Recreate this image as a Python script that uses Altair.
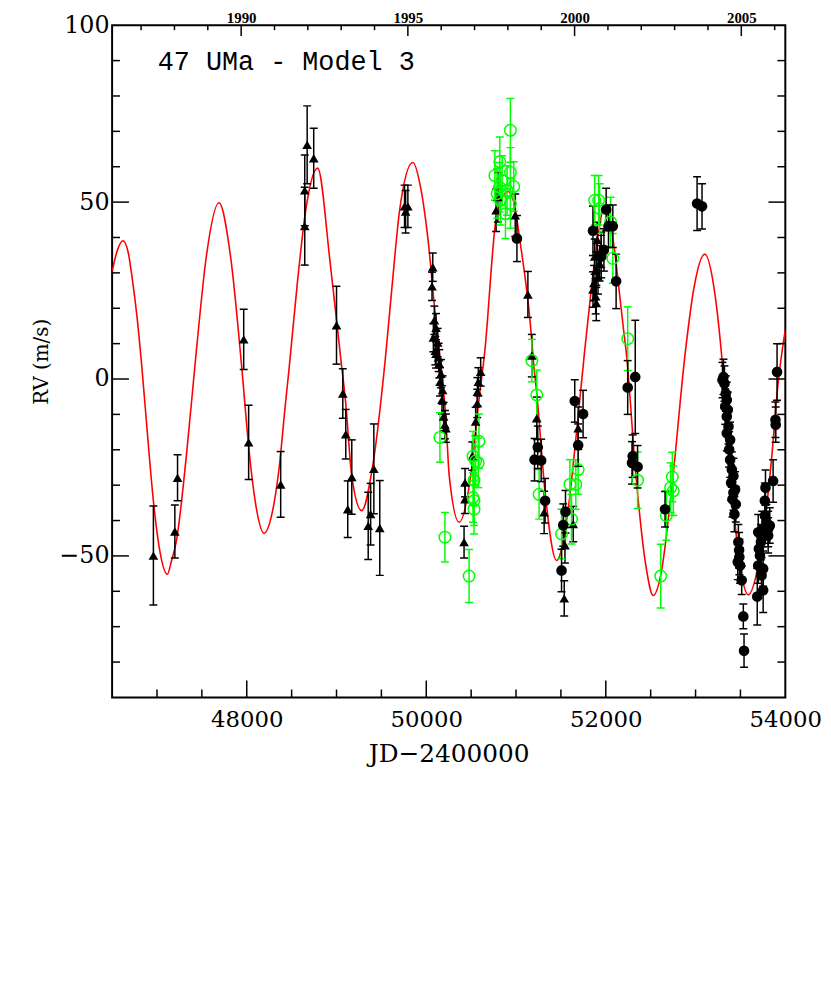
import altair as alt
import pandas as pd

# ---------------- data ----------------
fit_jd = [46500, 46560, 46621, 46680, 46721, 46780, 46831, 46910, 46960, 47038, 47115, 47160, 47218,
          47330, 47439, 47550, 47690, 47820, 47947, 48021, 48100, 48193, 48280, 48359, 48433,
          48470, 48560, 48654, 48790, 48930, 49052, 49100, 49170, 49280, 49408, 49545, 49622, 49703,
          49850, 49943, 50016, 50109, 50145, 50219, 50256, 50366, 50495, 50587, 50653, 50771,
          50840, 50910, 50975, 51048, 51158, 51195, 51231, 51324, 51452, 51581, 51673, 51765,
          51838, 51900, 51979, 52050, 52097, 52140, 52189, 52230, 52336, 52446, 52528, 52612,
          52741, 52888, 52979, 53102, 53219, 53293, 53404, 53495, 53588, 53698, 53846, 53919, 54000]
fit_rv = [30.4, 36.5, 39.1, 35.7, 29.0, 17.0, 3.5, -20.5, -34.5, -49.5, -55.2, -51.6, -45.5,
          -21.0, 8.1, 34.7, 49.8, 34.5, 2.5, -19.0, -35.5, -43.6, -38.2, -25.5, -6.5,
          2.5, 26.2, 47.2, 59.6, 32.7, 4.7, -6.1, -27.4, -37.2, -23.7, 6.0, 27.1, 47.7,
          61.2, 53.3, 40.2, 15.9, 8.1, -11.5, -27.4, -40.5, -27.4, -5.9, 8.1, 44.0,
          51.0, 53.0, 50.0, 38.3, 15.9, 4.7, -4.1, -32.1, -51.3, -36.8, -15.3, 8.1,
          25.3, 38.0, 48.0, 44.0, 36.5, 27.0, 15.9, 7.0, -27.4, -52.7, -61.2, -55.5,
          -29.3, 8.1, 25.3, 35.3, 23.4, 6.0, -31.2, -52.7, -61.0, -52.7, -22.8, -1.3, 14.0]

tri_jd = [46960, 47199, 47229, 47966, 48021, 48378, 48646, 48646, 48673, 48746, 49000, 49070,
          49103, 49125, 49170, 49353, 49380, 49416, 49482, 49758, 49770, 49795, 50064, 50072,
          50079, 50090, 50101, 50109, 50109, 50127, 50138, 50145, 50153, 50164, 50175, 50182,
          50193, 50208, 50219, 50421, 50432, 50432, 50513, 50550, 50568, 50570, 50580, 50606,
          50778, 50797, 50991, 51132, 51176, 51231, 51313, 51537, 51545, 51637, 51692, 51857,
          51868, 51876, 51887, 51894, 51894, 51905, 51913, 51931, 51949]
tri_rv = [-49.9, -43.1, -27.9, 11.2, -17.9, -29.8, 53.3, 43.2, 66.2, 62.4, 15.2, -4.1,
          -15.6, -36.8, -27.7, -41.5, -38.2, -25.4, -42.1, 48.8, 47.3, 48.8, 26.2, 31.6,
          11.7, 16.6, 8.0, 14.5, 7.1, 10.3, 6.1, 4.3, -0.8, 1.5, -5.9, -3.1,
          -10.6, -12.9, -13.9, -46.1, -29.3, -34.0, -21.8, -12.0, -6.9, -3.6, -0.8, 2.0,
          47.7, 51.4, 46.3, 23.9, 6.6, -11.1, -37.7, -62.0, -47.0, -41.0, -13.9, 25.3,
          27.1, 34.6, 23.4, 30.9, 21.5, 39.3, 29.0, 32.7, 36.5]
tri_err = [14, 7.5, 6.5, 8.5, 10.5, 9.3, 10, 11, 11, 8.5, 11, 7,
           7, 8, 10.5, 9.5, 8.7, 12.7, 13.4, 6, 6, 6, 4, 4,
           4, 4, 4, 4, 4, 4, 4, 4, 4, 4, 4, 4,
           4, 4, 4, 4.5, 4, 4, 4, 4, 4, 4, 4, 4,
           6, 7, 6, 6.5, 6, 6, 6, 5, 5, 5, 6, 5,
           5, 5, 5, 5, 5, 5, 5, 5, 5]

grn_jd = [50152, 50208, 50477, 50521, 50521, 50532, 50532, 50532, 50550, 50579, 50587, 50764,
          50789, 50816, 50819, 50827, 50845, 50882, 50900, 50937, 50937, 50937, 50974, 51176,
          51231, 51257, 51507, 51600, 51618, 51666, 51692, 51876, 51920, 51931, 52053, 52078,
          52244, 52354, 52612, 52674, 52722, 52741, 52752]
grn_rv = [-16.5, -44.7, -55.7, -21.8, -33.5, -28.6, -34.4, -36.8, -23.2, -23.7, -17.6, 57.5,
          52.4, 54.2, 61.4, 50.5, 56.1, 46.7, 53.3, 70.3, 58.4, 49.6, 54.4, 5.2,
          -4.5, -32.6, -43.8, -29.8, -39.6, -29.8, -25.6, 50.5, 50.5, 48.2, 44.4, 34.1,
          11.4, -28.6, -55.7, -38.6, -30.7, -27.7, -31.6]
grn_err = [7, 7, 7.5, 7, 7, 7, 7, 7, 7, 7, 7.7, 7,
           7, 7, 7, 7, 7, 7, 7, 9, 7, 7, 7, 6,
           7, 7, 7, 7, 7, 7, 7, 7, 7, 7, 7, 7,
           9, 8, 9, 7, 7, 7, 7]

dot_jd = [51010, 51206, 51242, 51280, 51324, 51507, 51526, 51551, 51654, 51692, 51747, 51857,
          51949, 51979, 52004, 52030, 52078, 52115, 52244, 52292, 52299, 52328, 52354, 52660,
          53017, 53072, 53300, 53311, 53322, 53330, 53337, 53348, 53348, 53348, 53359, 53367,
          53374, 53385, 53385, 53396, 53404, 53411, 53422, 53422, 53433, 53440, 53448, 53470,
          53477, 53485, 53488, 53496, 53514, 53532, 53540, 53687, 53698, 53698, 53705, 53717,
          53728, 53735, 53742, 53753, 53753, 53772, 53772, 53779, 53790, 53809, 53809, 53827,
          53864, 53890, 53893, 53908]
dot_rv = [39.7, -22.8, -19.3, -23.0, -34.4, -54.1, -41.3, -37.5, -6.2, -18.7, -9.9, 41.9,
          34.6, 36.5, 47.9, 43.2, 43.2, 27.6, -2.4, -23.7, -21.8, 0.6, -24.8, -36.8,
          49.6, 48.8, -0.3, 0.6, -1.3, -7.8, -4.1, -5.9, -10.6, -15.3, -8.7, -13.4,
          -19.9, -17.2, -22.8, -29.3, -25.6, -34.0, -27.4, -32.1, -38.2, -31.2, -35.4, -51.7,
          -46.1, -48.4, -50.3, -52.7, -56.9, -67.1, -76.8, -61.5, -52.7, -43.3, -48.0, -49.9,
          -46.1, -55.5, -42.4, -59.7, -53.6, -38.6, -34.4, -30.7, -40.5, -42.4, -44.2, -41.4,
          -28.8, -11.5, -12.9, 2.0]
dot_err = [6.5, 6, 6, 6, 6.3, 6, 6, 6, 6, 6, 6.7, 7,
           6, 6, 6, 6, 6, 7.7, 7.6, 6, 6, 16, 6, 5,
           7.6, 6.4, 5, 5, 5, 5, 5, 5, 5, 5, 5, 5,
           5, 5, 5, 5, 5, 5, 5, 5, 5, 5, 5, 5,
           5, 5, 5, 5, 4, 3.5, 4.7, 8, 5, 5, 5, 5,
           5, 5, 5, 6.3, 5, 5, 5, 5, 5, 5, 5, 5,
           6, 5, 5, 8]

x_labels = [48000, 50000, 52000, 54000]
x_major_ticks = [48000, 50000, 52000]
x_minor_ticks = [47000, 47500, 48500, 49000, 49500, 50500, 51000, 51500, 52500, 53000, 53500]
y_labels = [-50, 0, 50, 100]
y_major_ticks = [-50, 0, 50]
y_minor_ticks = [-80, -70, -60, -40, -30, -20, -10, 10, 20, 30, 40, 60, 70, 80, 90]
year_major = [1990, 1995, 2000, 2005]
year_minor = [1987, 1988, 1989, 1991, 1992, 1993, 1994, 1996, 1997, 1998, 1999,
              2001, 2002, 2003, 2004, 2006]
plot_title = "47 UMa - Model 3"

# ---------------- chart ----------------
W, H = 679, 678
xs = alt.Scale(domain=[46500, 54000], nice=False, zero=False)
ys = alt.Scale(domain=[-90, 100], nice=False, zero=False)
yrs = alt.Scale(domain=[1986.13, 2006.32], nice=False, zero=False)
SERIF = "DejaVu Serif"


def series_df(jd, rv, err):
    return pd.DataFrame({"jd": jd, "rv": rv,
                         "lo": [r - e for r, e in zip(rv, err)],
                         "hi": [r + e for r, e in zip(rv, err)]})


tri = series_df(tri_jd, tri_rv, tri_err)
grn = series_df(grn_jd, grn_rv, grn_err)
dot = series_df(dot_jd, dot_rv, dot_err)

xaxis = alt.Axis(values=x_labels, format="d", ticks=False, domain=False, grid=False,
                 labelFont=SERIF, labelFontSize=23, labelColor="black", labelPadding=11,
                 labelFlush=False, labelBound=False, labelOverlap=False,
                 title="JD\u22122400000", titleFont=SERIF, titleFontSize=25,
                 titleFontWeight="normal", titleColor="black", titlePadding=11)
yaxis = alt.Axis(values=y_labels, format="d", ticks=False, domain=False, grid=False,
                 labelFont=SERIF, labelFontSize=24, labelColor="black", labelPadding=3,
                 labelFlush=False, labelOverlap=False,
                 title="RV (m/s)", titleFont=SERIF, titleFontSize=20,
                 titleFontWeight="normal", titleColor="black", titlePadding=8)
topaxis = alt.Axis(orient="top", values=year_major, format="d", ticks=False, domain=False,
                   grid=False, labelFont="Liberation Serif", labelFontSize=15,
                   labelFontWeight="bold", labelColor="black", labelPadding=3,
                   labelBaseline="alphabetic", labelFlush=False, title=None)

curve = alt.Chart(pd.DataFrame({"jd": fit_jd, "rv": fit_rv})).mark_line(
    color="#ff0000", strokeWidth=1.6, interpolate="monotone", clip=True
).encode(x=alt.X("jd:Q", scale=xs, axis=xaxis), y=alt.Y("rv:Q", scale=ys, axis=yaxis))


def err_layers(df, color):
    base = alt.Chart(df)
    bar = base.mark_rule(color=color, strokeWidth=1.5, clip=True).encode(
        x=alt.X("jd:Q", scale=xs, axis=None),
        y=alt.Y("lo:Q", scale=ys, axis=None), y2="hi:Q")
    cap_lo = base.mark_tick(color=color, orient="horizontal", size=8, thickness=1.5,
                            opacity=1, clip=True).encode(
        x=alt.X("jd:Q", scale=xs, axis=None), y=alt.Y("lo:Q", scale=ys, axis=None))
    cap_hi = base.mark_tick(color=color, orient="horizontal", size=8, thickness=1.5,
                            opacity=1, clip=True).encode(
        x=alt.X("jd:Q", scale=xs, axis=None), y=alt.Y("hi:Q", scale=ys, axis=None))
    return [bar, cap_lo, cap_hi]


def pts(df, **kw):
    return alt.Chart(df).mark_point(opacity=1, clip=True, **kw).encode(
        x=alt.X("jd:Q", scale=xs, axis=None), y=alt.Y("rv:Q", scale=ys, axis=None))


tri_pts = pts(tri, shape="triangle-up", filled=True, color="black", size=95)
grn_pts = pts(grn, shape="circle", filled=False, color="#00ff00", size=135, strokeWidth=1.5)
dot_pts = pts(dot, shape="circle", filled=True, color="black", size=115)


def xticks(vals, length, top=False):
    y0, y1 = (0, length) if top else (H, H - length)
    return alt.Chart(pd.DataFrame({"v": vals})).mark_rule(color="black", strokeWidth=1.5).encode(
        x=alt.X("v:Q", scale=xs, axis=None), y=alt.value(y0), y2=alt.value(y1))


def yticks(vals, length, right=False):
    x0, x1 = (W, W - length) if right else (0, length)
    return alt.Chart(pd.DataFrame({"v": vals})).mark_rule(color="black", strokeWidth=1.5).encode(
        y=alt.Y("v:Q", scale=ys, axis=None), x=alt.value(x0), x2=alt.value(x1))


year_major_layer = alt.Chart(pd.DataFrame({"yr": year_major})).mark_rule(
    color="black", strokeWidth=1.5).encode(
    x=alt.X("yr:Q", scale=yrs, axis=topaxis), y=alt.value(0), y2=alt.value(11))
year_minor_layer = alt.Chart(pd.DataFrame({"yr": year_minor})).mark_rule(
    color="black", strokeWidth=1.5).encode(
    x=alt.X("yr:Q", scale=yrs, axis=None), y=alt.value(0), y2=alt.value(5))

label = alt.Chart(pd.DataFrame({"t": [plot_title]})).mark_text(
    align="left", baseline="middle", font="Liberation Mono", fontSize=27, color="black"
).encode(text="t:N", x=alt.value(46), y=alt.value(37))

layers = [curve]
layers += err_layers(tri, "black")
layers += err_layers(grn, "#00ff00")
layers += err_layers(dot, "black")
layers += [tri_pts, grn_pts, dot_pts,
           xticks(x_major_ticks, 17), xticks(x_minor_ticks, 8),
           yticks(y_major_ticks, 17), yticks(y_minor_ticks, 8),
           yticks(y_major_ticks, 17, right=True), yticks(y_minor_ticks, 8, right=True),
           year_major_layer, year_minor_layer, label]

chart = alt.layer(*layers).resolve_scale(x="independent", y="independent").properties(
    width=W, height=H, autosize="none",
    padding={"left": 105, "top": 14, "right": 38, "bottom": 90}
).configure_view(stroke="black", strokeWidth=2)

chart.save("out.html", embed_options={"renderer": "svg", "actions": False})
